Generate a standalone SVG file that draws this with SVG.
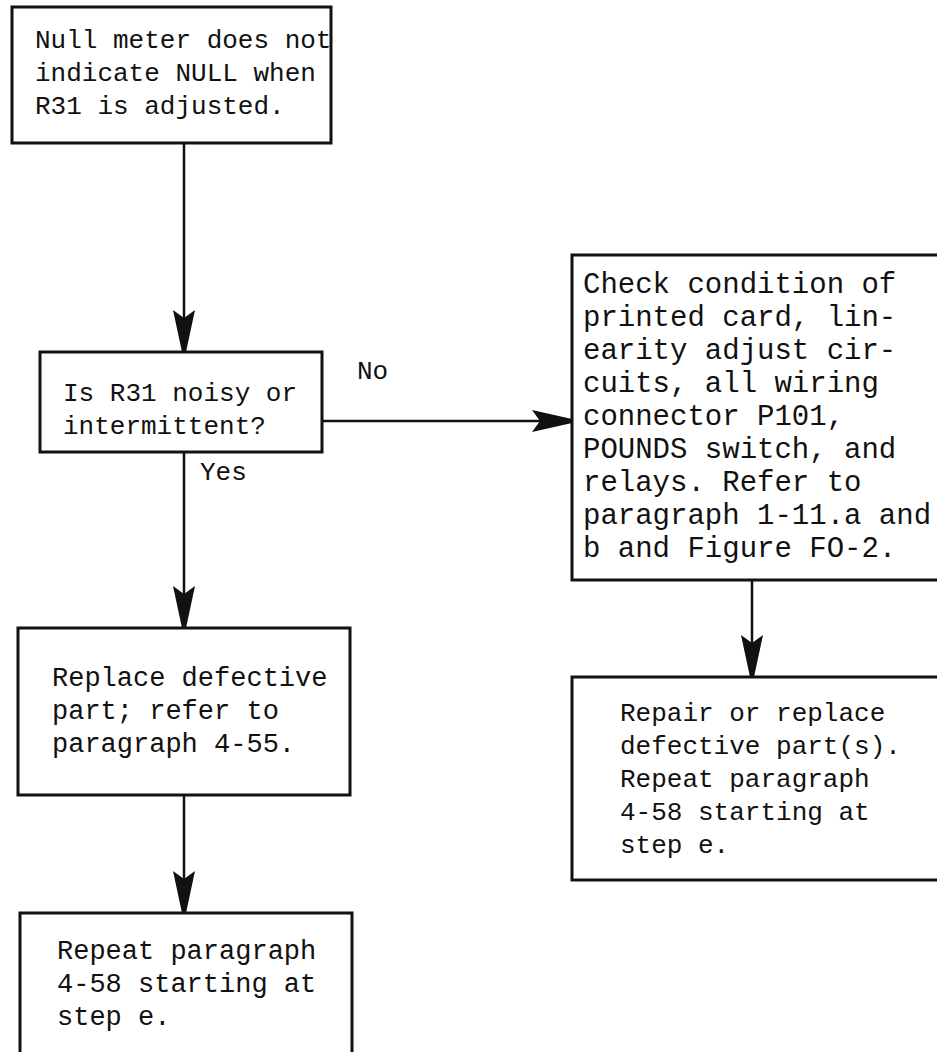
<svg xmlns="http://www.w3.org/2000/svg" width="937" height="1052" viewBox="0 0 937 1052">
<style>
.box{fill:#fff;stroke:#111;stroke-width:3}
.t{font-family:"Liberation Mono",monospace;font-size:26px;fill:#111}
.t29{font-size:29px}
.t27{font-size:27px}
.c{stroke:#111;stroke-width:2.5;fill:none}
.ah{fill:#111}
</style>
<rect width="937" height="1052" fill="#fff"/>
<g id="connectors">
<line class="c" x1="184" y1="143" x2="184" y2="340"/>
<path class="ah" d="M173,310 L184,318 L195,310 L186,352 L182,352 Z"/>
<line class="c" x1="322" y1="421" x2="560" y2="421"/>
<path class="ah" d="M532,410 L540,421 L532,432 L572,423 L572,419 Z"/>
<line class="c" x1="184" y1="452" x2="184" y2="610"/>
<path class="ah" d="M173,586 L184,594 L195,586 L186,628 L182,628 Z"/>
<line class="c" x1="184" y1="795" x2="184" y2="900"/>
<path class="ah" d="M173,871 L184,879 L195,871 L186,913 L182,913 Z"/>
<line class="c" x1="752" y1="580" x2="752" y2="660"/>
<path class="ah" d="M741,635 L752,643 L763,635 L754,677 L750,677 Z"/>
<text class="t" x="357" y="379">No</text>
<text class="t" x="200" y="480">Yes</text>
</g>
<g id="n1">
<rect class="box" x="12" y="7" width="319" height="136"/>
<text class="t" x="35" y="48">Null meter does not</text>
<text class="t" x="35" y="81">indicate NULL when</text>
<text class="t" x="35" y="114">R31 is adjusted.</text>
</g>
<g id="n2">
<rect class="box" x="40" y="352" width="282" height="100"/>
<text class="t" x="63" y="401">Is R31 noisy or</text>
<text class="t" x="63" y="434">intermittent?</text>
</g>
<g id="n3">
<rect class="box" x="572" y="255" width="380" height="325"/>
<text class="t t29" x="583" y="293">Check condition of</text>
<text class="t t29" x="583" y="326">printed card, lin-</text>
<text class="t t29" x="583" y="359">earity adjust cir-</text>
<text class="t t29" x="583" y="392">cuits, all wiring</text>
<text class="t t29" x="583" y="425">connector P101,</text>
<text class="t t29" x="583" y="458">POUNDS switch, and</text>
<text class="t t29" x="583" y="491">relays.  Refer to</text>
<text class="t t29" x="583" y="524">paragraph 1-11.a and</text>
<text class="t t29" x="583" y="557">b and Figure FO-2.</text>
</g>
<g id="n4">
<rect class="box" x="572" y="677" width="380" height="203"/>
<text class="t" x="620" y="721">Repair or replace</text>
<text class="t" x="620" y="754">defective part(s).</text>
<text class="t" x="620" y="787">Repeat paragraph</text>
<text class="t" x="620" y="820">4-58 starting at</text>
<text class="t" x="620" y="853">step e.</text>
</g>
<g id="n5">
<rect class="box" x="18" y="628" width="332" height="167"/>
<text class="t t27" x="52" y="686">Replace defective</text>
<text class="t t27" x="52" y="719">part; refer to</text>
<text class="t t27" x="52" y="752">paragraph 4-55.</text>
</g>
<g id="n6">
<rect class="box" x="20" y="913" width="332" height="160"/>
<text class="t t27" x="57" y="959">Repeat paragraph</text>
<text class="t t27" x="57" y="992">4-58 starting at</text>
<text class="t t27" x="57" y="1025">step e.</text>
</g>
</svg>
